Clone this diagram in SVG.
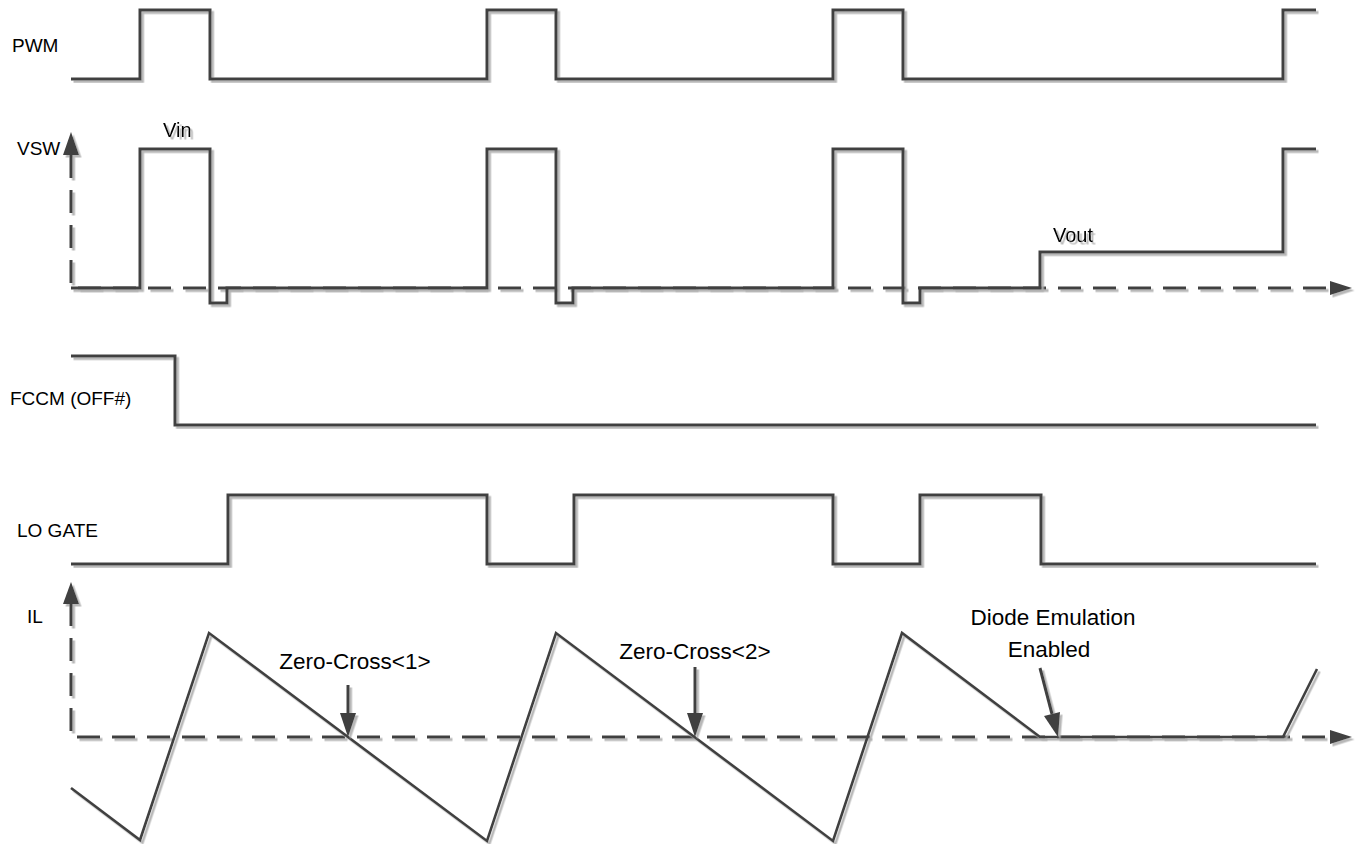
<svg xmlns="http://www.w3.org/2000/svg" width="1357" height="844" viewBox="0 0 1357 844">
<style>
  .w { fill: none; stroke: #404040; stroke-width: 3; stroke-linejoin: miter; stroke-linecap: butt; }
  .saw { fill: none; stroke: #404040; stroke-width: 2.6; stroke-linejoin: miter; }
  .ax { fill: none; stroke: #404040; stroke-width: 3; stroke-dasharray: 23 12; }
  .ah { fill: #404040; stroke: none; }
  .lbl { font-family: "Liberation Sans", Arial, sans-serif; font-size: 19px; fill: #000; }
  .sig { font-family: "Liberation Sans", Arial, sans-serif; font-size: 20px; fill: #000; }
  .ann { font-family: "Liberation Sans", Arial, sans-serif; font-size: 22.5px; fill: #000; }
</style>
<defs>
  <filter id="sh" x="-5%" y="-5%" width="110%" height="110%">
    <feDropShadow dx="2.5" dy="2.5" stdDeviation="0.6" flood-color="#b0b0b0" flood-opacity="0.9"/>
  </filter>
</defs>

<g id="labels">
  <text class="lbl" x="12" y="52">PWM</text>
  <text class="lbl" x="17" y="155">VSW</text>
  <text class="lbl" x="10" y="405">FCCM (OFF#)</text>
  <text class="lbl" x="17" y="537">LO GATE</text>
  <text class="lbl" x="27" y="623">IL</text>
</g>

<g id="axes" filter="url(#sh)">
  <path class="ax" d="M71,155 V288 H1332"/>
  <polygon class="ah" points="71,132 79,155 63,155"/>
  <polygon class="ah" points="1352,288 1330,281 1330,295"/>
  <path class="ax" d="M71,603 V737 H1332"/>
  <polygon class="ah" points="71,582 79,604 63,604"/>
  <polygon class="ah" points="1352,737 1330,730 1330,744"/>
</g>

<g id="pwm" filter="url(#sh)">
  <path class="w" d="M71,79 H140 V10 H210 V79 H487 V10 H556 V79 H833 V10 H903 V79 H1283 V10 H1316"/>
</g>

<g id="vsw" filter="url(#sh)">
  <path class="w" d="M71,288 H140 V149 H210 V303 H227 V288 H487 V149 H556 V303 H573 V288 H833 V149 H903 V303 H920 V288 H1040 V252 H1283 V149 H1316"/>
  <text class="sig" x="163" y="137">Vin</text>
  <text class="sig" x="1053" y="242">Vout</text>
</g>

<g id="fccm" filter="url(#sh)">
  <path class="w" d="M71,356 H175 V425 H1316"/>
</g>

<g id="logate" filter="url(#sh)">
  <path class="w" d="M71,564 H228 V495 H487 V564 H574 V495 H833 V564 H920 V495 H1041 V564 H1316"/>
</g>

<g id="il" filter="url(#sh)">
  <path class="saw" d="M71,788 L140,840 L209,633 L487,841 L556,633 L833,841 L902,633 L1040,737 H1283 L1317,669"/>
</g>

<g id="connectors" filter="url(#sh)">
  <line class="w" x1="348" y1="685" x2="348" y2="714"/>
  <polygon class="ah" points="348,737 340,713 356,713"/>
  <line class="w" x1="695" y1="667" x2="695" y2="714"/>
  <polygon class="ah" points="695,737 687,713 703,713"/>
  <line class="w" x1="1040" y1="668" x2="1052" y2="714"/>
  <polygon class="ah" points="1058,737 1044,716 1060,712"/>
</g>

<g id="annotations">
  <text class="ann" x="355" y="669" text-anchor="middle">Zero-Cross&lt;1&gt;</text>
  <text class="ann" x="695" y="659" text-anchor="middle">Zero-Cross&lt;2&gt;</text>
  <text class="ann" x="1053" y="625" text-anchor="middle">Diode Emulation</text>
  <text class="ann" x="1049" y="657" text-anchor="middle">Enabled</text>
</g>
</svg>
